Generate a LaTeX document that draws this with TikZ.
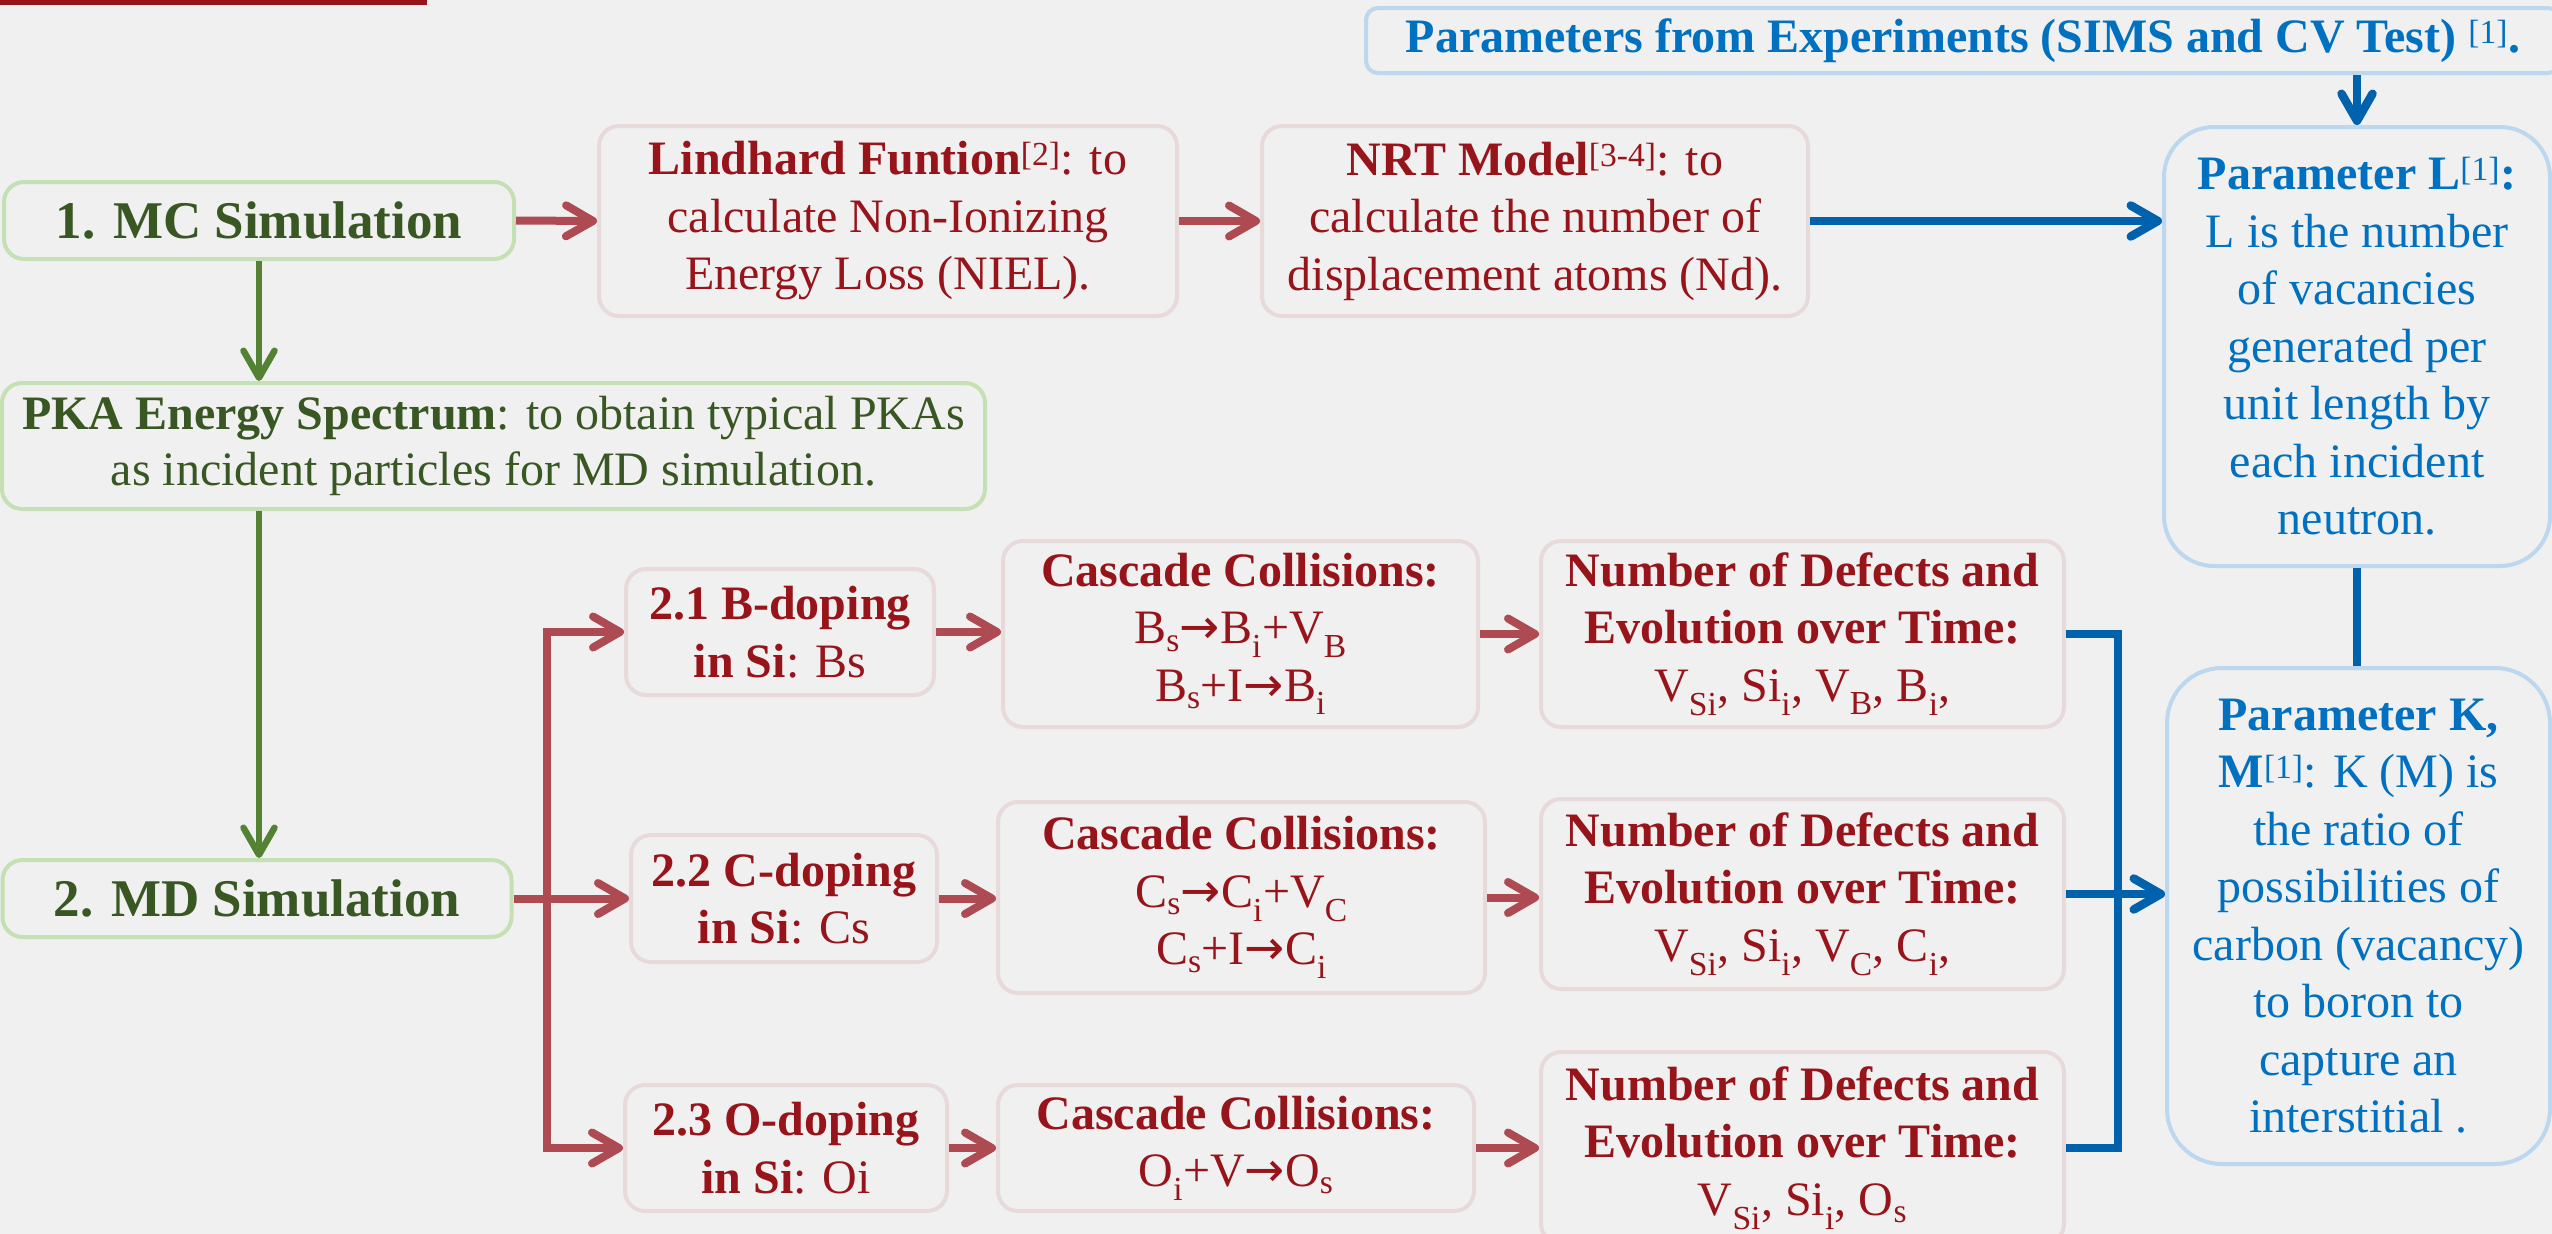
\documentclass[tikz,border=0pt]{standalone}
\usepackage{fontspec}
\setmainfont{Liberation Serif}
\newfontfamily\arrowfont{DejaVu Sans}
\usetikzlibrary{arrows.meta,calc}
\definecolor{bg}{HTML}{F0F0F0}
\definecolor{gtext}{HTML}{385723}
\definecolor{gline}{HTML}{548235}
\definecolor{gbord}{HTML}{C5E0B4}
\definecolor{rtext}{HTML}{97141A}
\definecolor{rline}{HTML}{AE4B52}
\definecolor{rbord}{HTML}{E8DADA}
\definecolor{btext}{HTML}{0070C0}
\definecolor{bline}{HTML}{0061AD}
\definecolor{bbord}{HTML}{BDD7EE}
\newcommand{\ra}{{\arrowfont →}}
\begin{document}
\begin{tikzpicture}[x=1pt,y=-1pt,
  box/.style={draw, line width=4pt, rounded corners=20pt, align=center, inner sep=0pt},
  gbox/.style={box, draw=gbord, text=gtext, font=\fontsize{48}{56}\selectfont},
  rbox/.style={box, draw=rbord, text=rtext, font=\fontsize{48}{57.5}\selectfont},
  bbox/.style={box, draw=bbord, text=btext, font=\fontsize{48}{57.5}\selectfont},
  wh/.style 2 args={minimum width=#1pt, minimum height=#2pt},
  chev/.style={-{Straight Barb[length=27pt,width=31pt,round]}},
  chevtwo/.style={{Straight Barb[length=27pt,width=31pt,round]}-{Straight Barb[length=27pt,width=31pt,round]}},
  rarr/.style={draw=rline, line width=8pt, chev},
  garr/.style={draw=gline, line width=6.5pt, chev},
  barr/.style={draw=bline, line width=8.5pt, chev},
  bln/.style={draw=bline, line width=8.5pt},
  rln/.style={draw=rline, line width=8pt},
]
\clip (0,0) rectangle (2552,1234);
\fill[bg] (0,0) rectangle (2552,1234);
\fill[rtext] (0,0) rectangle (427,5);

% green column
\node[gbox, wh={510}{77}, font=\bfseries\fontsize{53}{60}\selectfont] (mc) at (259,220.5) {1. MC Simulation};
\node[gbox, wh={983}{126}] (pka) at (493.5,446) {\textbf{PKA Energy Spectrum}: to obtain typical PKAs\\as incident particles for MD simulation.};
\node[gbox, wh={509}{77}, font=\bfseries\fontsize{53}{60}\selectfont] (md) at (257,898.5) {2. MD Simulation};

% top row
\node[rbox, wh={578}{190}] (lind) at (888,221) {\textbf{Lindhard Funtion}\textsuperscript{[2]}: to\\calculate Non-Ionizing\\Energy Loss (NIEL).};
\node[rbox, wh={546}{190}] (nrt) at (1535,221) {\textbf{NRT Model}\textsuperscript{[3-4]}: to\\calculate the number of\\displacement atoms (Nd).};

% blue boxes
\node[bbox, wh={1194}{65}, rounded corners=12pt] (top) at (1963,40.5) {\textbf{Parameters from Experiments (SIMS and CV Test)} \textsuperscript{[1]}\textbf{.}};
\node[bbox, wh={386}{439}, rounded corners=50pt] (parl) at (2357,346.5) {\textbf{Parameter L}\textsuperscript{[1]}\textbf{:}\\L is the number\\of vacancies\\generated per\\unit length by\\each incident\\neutron.};
\node[bbox, wh={383}{496}, rounded corners=55pt] (park) at (2358.5,916) {\textbf{Parameter K,}\\\textbf{M}\textsuperscript{[1]}: K (M) is\\the ratio of\\possibilities of\\carbon (vacancy)\\to boron to\\capture an\\interstitial .};

% doping rows
\node[rbox, wh={308}{126}] (b1) at (780,632) {\textbf{2.1 B-doping}\\\textbf{in Si}: Bs};
\node[rbox, wh={306}{127}] (b2) at (784,898.5) {\textbf{2.2 C-doping}\\\textbf{in Si}: Cs};
\node[rbox, wh={322}{126}] (b3) at (786,1148) {\textbf{2.3 O-doping}\\\textbf{in Si}: Oi};

\node[rbox, wh={475}{186}] (c1) at (1240.5,634) {\textbf{Cascade Collisions:}\\B\textsubscript{s}\ra B\textsubscript{i}+V\textsubscript{B}\\B\textsubscript{s}+I\ra B\textsubscript{i}};
\node[rbox, wh={487}{191}] (c2) at (1241.5,897.5) {\textbf{Cascade Collisions:}\\C\textsubscript{s}\ra C\textsubscript{i}+V\textsubscript{C}\\C\textsubscript{s}+I\ra C\textsubscript{i}};
\node[rbox, wh={476}{126}] (c3) at (1236,1148) {\textbf{Cascade Collisions:}\\O\textsubscript{i}+V\ra O\textsubscript{s}};

\node[rbox, wh={523}{186}] (d1) at (1802.5,634) {\textbf{Number of Defects and}\\\textbf{Evolution over Time:}\\V\textsubscript{Si}, Si\textsubscript{i}, V\textsubscript{B}, B\textsubscript{i},};
\node[rbox, wh={523}{190}] (d2) at (1802.5,894) {\textbf{Number of Defects and}\\\textbf{Evolution over Time:}\\V\textsubscript{Si}, Si\textsubscript{i}, V\textsubscript{C}, C\textsubscript{i},};
\node[rbox, wh={523}{192}] (d3) at (1802.5,1148) {\textbf{Number of Defects and}\\\textbf{Evolution over Time:}\\V\textsubscript{Si}, Si\textsubscript{i}, O\textsubscript{s}};

% connectors
\draw[rarr] (mc.east) -- (lind.west);
\draw[rarr] (lind.east) -- (nrt.west);
\draw[barr] (nrt.east) -- (nrt.east -| parl.west);
\draw[barr] (top.south -| parl) -- (parl.north);
\draw[bln] (parl.south) -- (parl.south |- park.north);
\draw[garr] (mc.south) -- (mc.south |- pka.north);
\draw[garr] (pka.south -| mc.south) -- (md.north -| mc.south);

\coordinate (trunk) at (547,898);
\draw[rarr] (md.east) -- (md.east -| b2.west);
\draw[rln, chevtwo] (b1.west) -- (trunk |- b1.west) -- (trunk |- b3.west) -- (b3.west);

\draw[rarr] (b1.east) -- (b1.east -| c1.west);
\draw[rarr] (b2.east) -- (b2.east -| c2.west);
\draw[rarr] (b3.east) -- (b3.east -| c3.west);
\draw[rarr] (c1.east) -- (c1.east -| d1.west);
\draw[rarr] (c2.east) -- (c2.east -| d2.west);
\draw[rarr] (c3.east) -- (c3.east -| d3.west);

\coordinate (bx) at (2118,0);
\draw[bln] (d1.east) -- (d1.east -| bx) -- (d3.east -| bx) -- (d3.east);
\draw[barr] (d2.east) -- (d2.east -| park.west);
\end{tikzpicture}
\end{document}
